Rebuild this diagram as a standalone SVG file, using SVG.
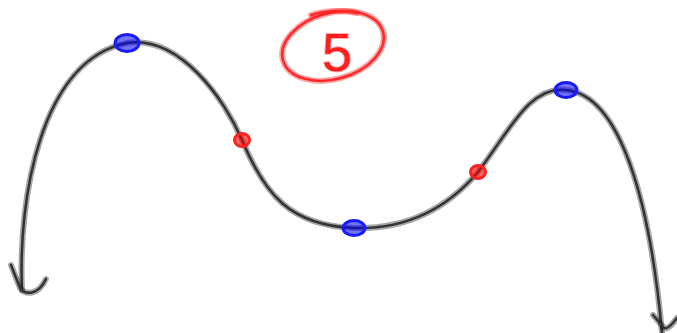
<svg xmlns="http://www.w3.org/2000/svg" width="677" height="333" viewBox="0 0 677 333">
<style>
.halo{fill:none;stroke:#000;stroke-opacity:0.35;stroke-width:6;stroke-linecap:round;stroke-linejoin:round}
.core{fill:none;stroke:#333;stroke-width:2.5;stroke-linecap:round;stroke-linejoin:round}
.blue{fill:#0000ff;fill-opacity:0.55;stroke:#1a1aff;stroke-width:3}
.red{fill:#ff0000;fill-opacity:0.6;stroke:#ff2020;stroke-width:3}
.rh{fill:none;stroke:#ff0000;stroke-opacity:0.35;stroke-width:6;stroke-linecap:round}
.rc{fill:none;stroke:#ff2a2a;stroke-width:2.5;stroke-linecap:round}
</style>
<rect width="677" height="333" fill="#fff"/>
<g id="connectors">
<path class="halo" d="M 22 290 C 18 200, 40 60, 127 43 C 180 35, 225 100, 242 140 C 265 195, 290 225, 353 228 C 410 230, 450 205, 478 172 C 510 130, 530 85, 566 90 C 620 95, 650 200, 662 333"/>
<path class="core" d="M 22 290 C 18 200, 40 60, 127 43 C 180 35, 225 100, 242 140 C 265 195, 290 225, 353 228 C 410 230, 450 205, 478 172 C 510 130, 530 85, 566 90 C 620 95, 650 200, 662 333"/>
<path class="halo" d="M 11 265 L 20 288 C 25 295, 38 296, 46 279"/>
<path class="core" d="M 11 265 L 20 288 C 25 295, 38 296, 46 279"/>
<path class="halo" d="M 653 315 L 664 328 C 668 330, 674 322, 677 318"/>
<path class="core" d="M 653 315 L 664 328 C 668 330, 674 322, 677 318"/>
</g>
<g id="max1"><ellipse class="blue" cx="127" cy="43" rx="12" ry="8.5"/></g>
<g id="infl1"><ellipse class="red" cx="242" cy="140" rx="7.5" ry="6.5"/></g>
<g id="min1"><ellipse class="blue" cx="354" cy="228" rx="11" ry="7.5"/></g>
<g id="infl2"><ellipse class="red" cx="478" cy="172" rx="7.5" ry="6.5"/></g>
<g id="max2"><ellipse class="blue" cx="566" cy="90" rx="11" ry="7.5"/></g>
<g id="label5">
<ellipse class="rh" cx="333" cy="46" rx="52" ry="33" transform="rotate(-16 333 46)"/>
<ellipse class="rc" cx="333" cy="46" rx="52" ry="33" transform="rotate(-16 333 46)"/>
<path class="rh" d="M 311 15 C 325 10, 345 10, 357 13"/>
<path class="rc" d="M 311 15 C 325 10, 345 10, 357 13"/>
<text x="337" y="71" font-family="Liberation Sans, sans-serif" font-size="54" fill="#ff2020" text-anchor="middle" stroke="#ff0000" stroke-opacity="0.3" stroke-width="2">5</text>
</g>
</svg>
